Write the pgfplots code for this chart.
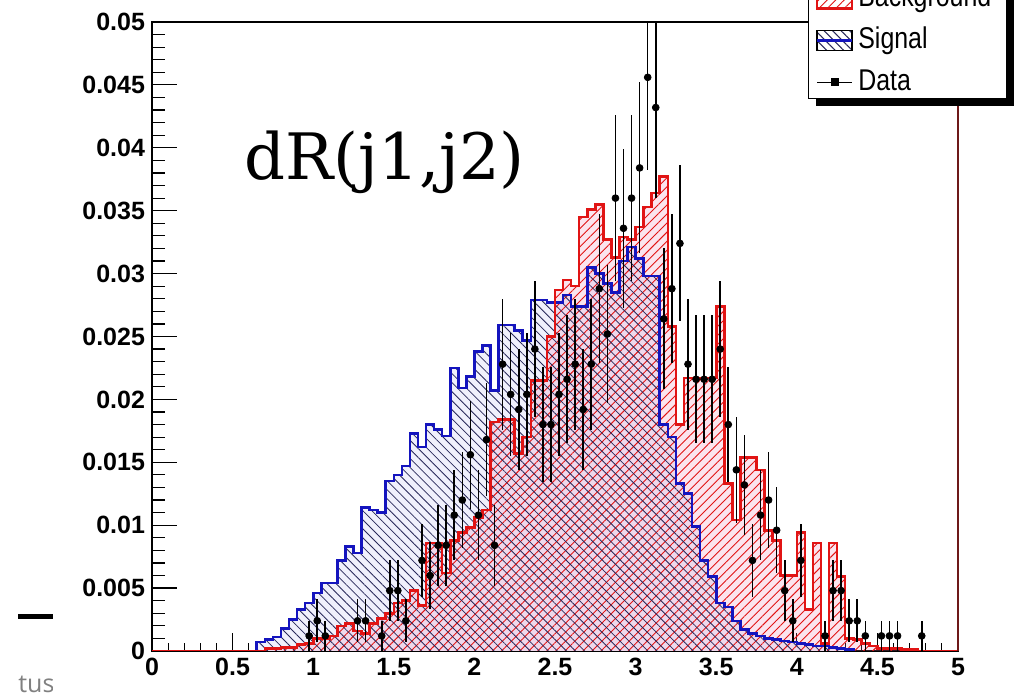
\documentclass[border=0pt]{standalone}
\usepackage{fontspec}
\setmainfont{Liberation Sans}
\newfontfamily\legendfont[FakeStretch=0.83]{Liberation Sans}
\newfontfamily\seriffont{DejaVu Serif}
\newfontfamily\grayfont{Open Sans}
\usepackage{pgfplots}
\pgfplotsset{compat=1.18}
\usepackage{pgfplotstable}
\usetikzlibrary{patterns.meta,shadows}
\makeatletter
\tikzset{noshadow/.code={\let\tikz@preactions\pgfutil@empty}}
\makeatother

\definecolor{rootred}{RGB}{225,20,20}
\definecolor{rootblue}{RGB}{20,20,190}
\definecolor{hatchnavy}{RGB}{40,40,90}
\definecolor{sigfill}{RGB}{240,240,252}
\definecolor{bkgfill}{RGB}{235,120,170}
\definecolor{frameright}{RGB}{110,25,25}

\pgfplotstableread{
x y
0.00 0
0.70 0.0002
0.75 0.0002
0.80 0.0003
0.85 0.0003
0.90 0.0005
0.95 0.0006
1.00 0.0010
1.05 0.0010
1.10 0.0012
1.15 0.0020
1.20 0.0022
1.25 0.0016
1.30 0.0014
1.35 0.0022
1.40 0.0026
1.45 0.0030
1.50 0.0038
1.55 0.0040
1.60 0.0048
1.65 0.0036
1.70 0.0086
1.75 0.0086
1.80 0.0062
1.85 0.0088
1.90 0.0094
1.95 0.0098
2.00 0.0106
2.05 0.0112
2.10 0.0182
2.15 0.0184
2.20 0.0184
2.25 0.0157
2.30 0.0170
2.35 0.0215
2.40 0.0215
2.45 0.0250
2.50 0.0287
2.55 0.0295
2.60 0.0290
2.65 0.0345
2.70 0.0351
2.75 0.0355
2.80 0.0327
2.85 0.0313
2.90 0.0329
2.95 0.0327
3.00 0.0337
3.05 0.0353
3.10 0.0364
3.15 0.0377
3.20 0.0258
3.25 0.0180
3.30 0.0217
3.35 0.0217
3.40 0.0217
3.45 0.0217
3.50 0.0274
3.55 0.0133
3.60 0.0104
3.65 0.0154
3.70 0.0154
3.75 0.0144
3.80 0.0096
3.85 0.0088
3.90 0.0060
3.95 0.0060
4.00 0.0094
4.05 0.0033
4.10 0.0086
4.15 0.0006
4.20 0.0086
4.25 0.0059
4.30 0.0010
4.35 0.0009
4.40 0.0006
4.45 0.0004
4.50 0.0002
4.55 0.0002
4.60 0.0002
4.65 0.0001
4.70 0.0001
4.75 0
5.00 0
}\bkg

\pgfplotstableread{
x y
0.60 0
0.65 0.0007
0.70 0.0009
0.75 0.0011
0.80 0.0018
0.85 0.0025
0.90 0.0033
0.95 0.0038
1.00 0.0046
1.05 0.0054
1.10 0.0054
1.15 0.0072
1.20 0.0083
1.25 0.0078
1.30 0.0114
1.35 0.0112
1.40 0.0110
1.45 0.0135
1.50 0.0140
1.55 0.0147
1.60 0.0173
1.65 0.0162
1.70 0.0180
1.75 0.0176
1.80 0.0171
1.85 0.0225
1.90 0.0209
1.95 0.0218
2.00 0.0238
2.05 0.0243
2.10 0.0207
2.15 0.0259
2.20 0.0259
2.25 0.0255
2.30 0.0247
2.35 0.0279
2.40 0.0279
2.45 0.0277
2.50 0.0277
2.55 0.0283
2.60 0.0274
2.65 0.0274
2.70 0.0305
2.75 0.0300
2.80 0.0292
2.85 0.0285
2.90 0.0310
2.95 0.0321
3.00 0.0312
3.05 0.0298
3.10 0.0298
3.15 0.0180
3.20 0.0170
3.25 0.0133
3.30 0.0125
3.35 0.0099
3.40 0.0072
3.45 0.0059
3.50 0.0038
3.55 0.0035
3.60 0.0024
3.65 0.0017
3.70 0.0014
3.75 0.0012
3.80 0.0010
3.85 0.0009
3.90 0.0008
3.95 0.0007
4.00 0.0006
4.05 0.0005
4.10 0.0004
4.15 0.0004
4.20 0.0003
4.25 0.0002
4.30 0.0001
4.35 0
}\sig

\pgfplotstableread{
x y e
0.975 0.0012 0.0012
1.025 0.0024 0.0017
1.075 0.0012 0.0012
1.275 0.0024 0.0017
1.325 0.0024 0.0017
1.425 0.0012 0.0012
1.475 0.0048 0.0024
1.525 0.0048 0.0024
1.575 0.0024 0.0017
1.675 0.0072 0.0029
1.725 0.0060 0.0027
1.775 0.0084 0.0032
1.825 0.0084 0.0032
1.875 0.0108 0.0036
1.925 0.0120 0.0038
1.975 0.0156 0.0043
2.025 0.0108 0.0036
2.075 0.0168 0.0045
2.125 0.0084 0.0032
2.175 0.0228 0.0052
2.225 0.0204 0.0049
2.275 0.0192 0.0048
2.325 0.0204 0.0049
2.375 0.0240 0.0054
2.425 0.0180 0.0046
2.475 0.0180 0.0046
2.525 0.0204 0.0049
2.575 0.0216 0.0051
2.625 0.0228 0.0052
2.675 0.0192 0.0048
2.725 0.0228 0.0052
2.775 0.0288 0.0059
2.825 0.0252 0.0055
2.875 0.0360 0.0066
2.925 0.0336 0.0063
2.975 0.0360 0.0066
3.025 0.0384 0.0068
3.075 0.0456 0.0074
3.125 0.0432 0.0072
3.175 0.0264 0.0056
3.225 0.0288 0.0059
3.275 0.0324 0.0062
3.325 0.0228 0.0052
3.375 0.0216 0.0051
3.425 0.0216 0.0051
3.475 0.0216 0.0051
3.525 0.0240 0.0054
3.575 0.0180 0.0046
3.625 0.0144 0.0042
3.675 0.0132 0.0040
3.725 0.0072 0.0029
3.775 0.0108 0.0036
3.825 0.0120 0.0038
3.875 0.0096 0.0034
3.925 0.0048 0.0024
3.975 0.0024 0.0017
4.025 0.0072 0.0029
4.175 0.0012 0.0012
4.225 0.0048 0.0024
4.275 0.0048 0.0024
4.325 0.0024 0.0017
4.375 0.0024 0.0017
4.425 0.0012 0.0012
4.525 0.0012 0.0012
4.575 0.0012 0.0012
4.625 0.0012 0.0012
4.775 0.0012 0.0012
}\data

\begin{document}
\begin{tikzpicture}
% x-axis ticks and labels (shorter ticks than on the y axis)
\begin{axis}[
  scale only axis, width=403pt, height=314.5pt,
  xmin=0, xmax=5, ymin=0, ymax=0.05,
  axis line style={draw=none},
  ytick=\empty,
  xtick={0,0.5,1,1.5,2,2.5,3,3.5,4,4.5,5},
  xticklabels={0,0.5,1,1.5,2,2.5,3,3.5,4,4.5,5},
  minor x tick num=4,
  xtick pos=bottom, tick align=inside,
  major tick length=9pt, minor tick length=4pt,
  tick style={black, line width=0.6pt},
  ticklabel style={font=\bfseries\fontsize{12.5}{15}\selectfont},
  scaled x ticks=false,
]
\addplot[draw=none, forget plot] coordinates {(0,0) (5,0)};
\end{axis}
\begin{axis}[
  scale only axis, width=403pt, height=314.5pt,
  xmin=0, xmax=5, ymin=0, ymax=0.05,
  xtick=\empty,
  ytick={0,0.005,0.01,0.015,0.02,0.025,0.03,0.035,0.04,0.045,0.05},
  yticklabels={0,0.005,0.01,0.015,0.02,0.025,0.03,0.035,0.04,0.045,0.05},
  scaled y ticks=false,
  minor y tick num=4,
  ytick pos=left,
  tick align=inside,
  major tick length=12.5pt, minor tick length=6.5pt,
  tick style={black, line width=0.6pt},
  ticklabel style={font=\bfseries\fontsize{12.5}{15}\selectfont},
  axis line style={line width=0.8pt},
  clip mode=individual,
  legend cell align=left,
  legend style={at={(0.814,0.8776)}, anchor=south west, draw=black, line width=0.7pt,
    fill=white, font=\legendfont\fontsize{15}{18}\selectfont,
    inner xsep=3.5pt, inner ysep=1pt, row sep=7pt,
    nodes={inner sep=0pt, text height=11pt, text depth=3pt},
    /tikz/every odd column/.append style={column sep=2.5pt},
    drop shadow={shadow xshift=3.75pt, shadow yshift=-3.75pt, fill=black, opacity=1}},
]
\addplot[const plot, draw=none, fill=sigfill, forget plot] table {\sig} \closedcycle;
\addplot[const plot, draw=none, fill=bkgfill, fill opacity=0.2, forget plot] table {\bkg} \closedcycle;
\addplot[const plot, draw=none, pattern={Lines[angle=45,distance=3.2pt,line width=0.45pt]}, pattern color=rootred, forget plot] table {\bkg} \closedcycle;
\addplot[const plot, draw=none, pattern={Lines[angle=-45,distance=3.2pt,line width=0.4pt]}, pattern color=hatchnavy, forget plot] table {\sig} \closedcycle;
\addplot[const plot, draw=rootblue, line width=1.3pt, forget plot] table {\sig};
\addplot[const plot, draw=rootred, line width=1.3pt, forget plot] table {\bkg};
\addplot[forget plot, only marks, mark=*, mark size=1.7pt, black,
  error bars/.cd, y dir=both, y explicit, error mark=none,
  error bar style={line width=0.8pt, black}]
  table[x=x, y=y, y error=e] {\data};
\draw[frameright, line width=0.9pt] (rel axis cs:1,0) -- (rel axis cs:1,1);

\addlegendimage{legend image code/.code={
  \fill[noshadow, pattern={Lines[angle=45,distance=3pt,line width=0.5pt]}, pattern color=rootred] (0pt,-5pt) rectangle (17.5pt,5pt);
  \draw[noshadow, rootred, line width=1.3pt] (0pt,-5pt) rectangle (17.5pt,5pt);}}
\addlegendentry{Background\hspace*{4pt}}
\addlegendimage{legend image code/.code={
  \fill[noshadow, pattern={Lines[angle=-45,distance=3pt,line width=0.5pt]}, pattern color=hatchnavy] (0pt,-5pt) rectangle (17.5pt,5pt);
  \draw[noshadow, rootblue, line width=1.3pt] (0pt,0pt) -- (17.5pt,0pt);}}
\addlegendentry{Signal}
\addlegendimage{legend image code/.code={
  \draw[noshadow, black, line width=0.7pt] (0pt,0pt) -- (17.5pt,0pt);
  \fill[noshadow, black] (7.2pt,-1.6pt) rectangle (10.4pt,1.6pt);}}
\addlegendentry{Data}
\end{axis}
\coordinate (P) at ([xshift=-76pt,yshift=-24.5pt]current axis.south west);
\node[anchor=base west, inner sep=0pt, font=\seriffont\fontsize{32}{38}\selectfont] at ([xshift=122pt,yshift=260pt]P) {dR(j1,j2)};
\fill[black] ([xshift=9pt,yshift=40.25pt]P) rectangle ([xshift=26.5pt,yshift=42.75pt]P);
\begin{scope}
\clip ([xshift=0pt,yshift=0pt]P) rectangle ([xshift=26.5pt,yshift=30pt]P);
\node[anchor=base west, inner sep=0pt, text=black!50, font=\grayfont\fontsize{12.5}{15}\selectfont] at ([xshift=9pt,yshift=3.5pt]P) {tus};
\end{scope}
\pgfresetboundingbox
\path[use as bounding box] (P) rectangle ([xshift=514pt,yshift=350pt]P);
\end{tikzpicture}
\end{document}
